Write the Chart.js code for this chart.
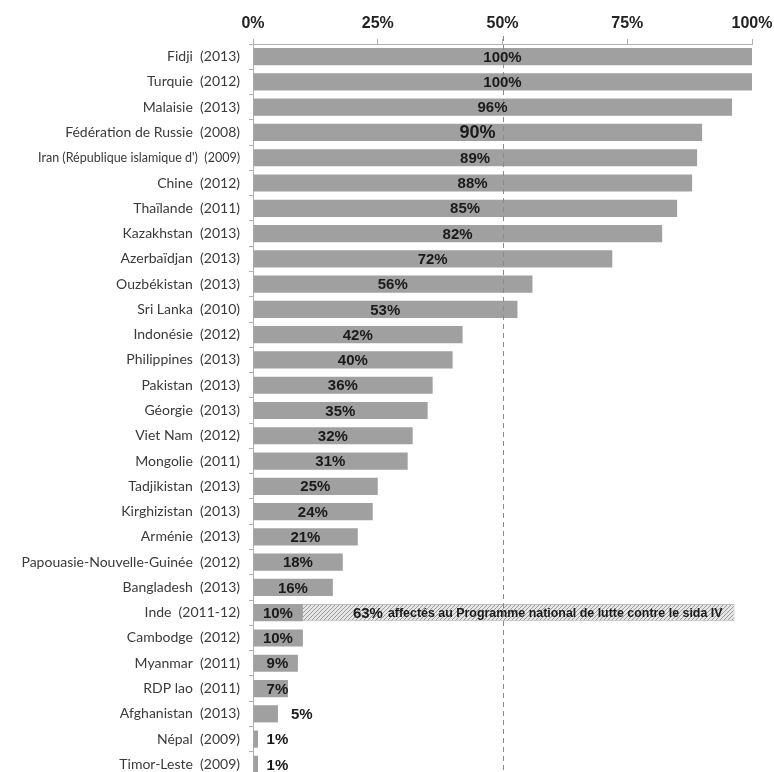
<!DOCTYPE html>
<html><head><meta charset="utf-8">
<script src="https://cdn.jsdelivr.net/npm/chart.js@4/dist/chart.umd.min.js"></script>
<style>
html,body{margin:0;padding:0;background:#fff;overflow:hidden;}
canvas{position:absolute;left:0;top:0;}
</style></head><body>
<canvas id="c" width="774" height="777"></canvas>
<script>
const countries = ["Fidji","Turquie","Malaisie","Fédération de Russie","Iran (République islamique d')","Chine","Thaïlande","Kazakhstan","Azerbaïdjan","Ouzbékistan","Sri Lanka","Indonésie","Philippines","Pakistan","Géorgie","Viet Nam","Mongolie","Tadjikistan","Kirghizistan","Arménie","Papouasie-Nouvelle-Guinée","Bangladesh","Inde","Cambodge","Myanmar","RDP lao","Afghanistan","Népal","Timor-Leste"];
const years = ["2013","2012","2013","2008","2009","2012","2011","2013","2013","2013","2010","2012","2013","2013","2013","2012","2011","2013","2013","2013","2012","2013","2011-12","2012","2011","2011","2013","2009","2009"];
const values = [100,100,96,90,89,88,85,82,72,56,53,42,40,36,35,32,31,25,24,21,18,16,10,10,9,7,5,1,1];
const xTicks = [0,25,50,75,100];
const referenceLine = 50;
const hatchCountry = "Inde";
const hatchRange = [10, 96.5];
const hatchShare = "63%";
const hatchNote = "affectés au Programme national de lutte contre le sida IV";

const labels = countries.map((c,i)=> c + '  (' + years[i] + ')');
const hatchData = countries.map(c => c === hatchCountry ? hatchRange : null);

function makeHatch(){
  const p = document.createElement('canvas'); p.width = 4; p.height = 4;
  const g = p.getContext('2d');
  g.fillStyle = '#e6e6e6'; g.fillRect(0,0,4,4);
  g.strokeStyle = '#9a9a9a'; g.lineWidth = 1;
  g.beginPath(); g.moveTo(0,4); g.lineTo(4,0); g.moveTo(-1,1); g.lineTo(1,-1); g.moveTo(3,5); g.lineTo(5,3); g.stroke();
  return document.getElementById('c').getContext('2d').createPattern(p,'repeat');
}

function zeroPad(s){ s.paddingTop = 0; s.paddingBottom = 0; s.paddingLeft = 0; s.paddingRight = 0; }

const overlay = {
  id:'overlay',
  afterDatasetsDraw(chart){
    const ctx = chart.ctx, xs = chart.scales.x, ys = chart.scales.y, ca = chart.chartArea;
    ctx.save();
    ctx.strokeStyle = '#8a8a8a'; ctx.lineWidth = 1; ctx.setLineDash([5,4]);
    const rx = Math.round(xs.getPixelForValue(referenceLine)) + 0.5;
    ctx.beginPath(); ctx.moveTo(rx, ca.top - 8); ctx.lineTo(rx, chart.height); ctx.stroke();
    ctx.restore();
    const meta = chart.getDatasetMeta(0);
    ctx.save();
    ctx.fillStyle = '#1a1a1a'; ctx.textBaseline = 'middle'; ctx.textAlign = 'center';
    meta.data.forEach((bar,i)=>{
      const v = values[i];
      const size = countries[i] === "Fédération de Russie" ? 18 : 15;
      ctx.font = 'bold ' + size + 'px "Liberation Sans", Arial, sans-serif';
      const txt = v + '%';
      const w = ctx.measureText(txt).width;
      const x0 = xs.getPixelForValue(0);
      const end = xs.getPixelForValue(v);
      let cx;
      if (v >= 10) cx = (x0 + end)/2;
      else {
        cx = xs.getPixelForValue(4.9);
        if (end > cx - w/2 + 3 && end < cx + w/2 - 3) cx = end + 13 + w/2;
      }
      ctx.fillText(txt, cx, bar.y + 1);
    });
    const hi = countries.indexOf(hatchCountry);
    const hb = meta.data[hi];
    let tx = xs.getPixelForValue(hatchRange[0]) + 50;
    ctx.textAlign = 'left';
    ctx.font = 'bold 15px "Liberation Sans", Arial, sans-serif';
    ctx.fillText(hatchShare, tx, hb.y + 1);
    tx += ctx.measureText(hatchShare).width + 5;
    ctx.font = 'bold 12.5px "Liberation Sans Narrow", "Liberation Sans", Arial, sans-serif';
    const endX = xs.getPixelForValue(hatchRange[1]) - 12;
    ctx.fillText(hatchNote, tx, hb.y + 1, endX - tx);
    ctx.restore();
  }
};

new Chart(document.getElementById('c'), {
  type:'bar',
  data:{
    labels: labels,
    datasets:[
      {data: values, backgroundColor:'#a0a0a0', borderWidth:0, barPercentage:0.68, categoryPercentage:1, grouped:false, order:1},
      {data: hatchData, backgroundColor: makeHatch(), borderColor:'#b8b8b8', borderWidth:1, barPercentage:0.68, categoryPercentage:1, grouped:false, order:2}
    ]
  },
  options:{
    indexAxis:'y',
    responsive:false, animation:false, devicePixelRatio:1,
    layout:{padding:{left:0,right:22,top:0,bottom:0}},
    plugins:{legend:{display:false}, tooltip:{enabled:false}},
    scales:{
      x:{
        position:'top', min:0, max:100,
        afterBuildTicks(s){ s.ticks = xTicks.map(v=>({value:v})); },
        afterFit(s){ s.height = 44; zeroPad(s); },
        border:{display:true, color:'#b0b0b0', width:1},
        grid:{drawOnChartArea:false, drawTicks:true, tickLength:5, color:'#b0b0b0'},
        ticks:{callback:v=>v+'%', color:'#222', padding:6, font:{family:'"Liberation Sans", Arial, sans-serif', size:16, weight:'bold'}}
      },
      y:{
        afterFit(s){ s.width = 253; zeroPad(s); },
        border:{display:true, color:'#b0b0b0', width:1},
        grid:{drawOnChartArea:false, drawTicks:true, tickLength:4, color:'#b0b0b0', offset:true},
        ticks:{color:'#3a3a3a', padding:9, autoSkip:false,
          font:(c)=>({family:'Lato, "Open Sans", sans-serif', size: c.index===4 ? 12.5 : 14})}
      }
    }
  },
  plugins:[overlay]
});
</script>
</body></html>
